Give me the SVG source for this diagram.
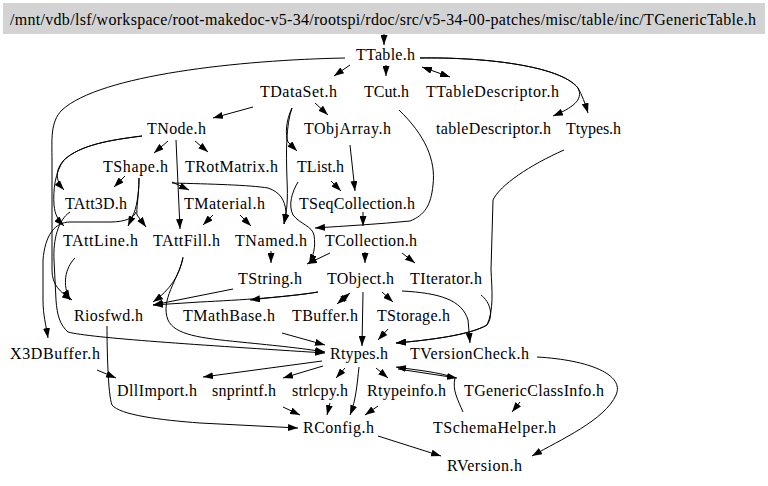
<svg xmlns="http://www.w3.org/2000/svg" width="768" height="486" viewBox="0 0 768 486">
<style>
text{font-family:"Liberation Serif","Times New Roman",serif;font-size:16px;fill:#000;text-anchor:middle}
#edges path{fill:none;stroke:#000;stroke-width:1;marker-end:url(#ah)}
#edges path.both{marker-start:url(#ah)}
</style>
<defs>
<marker id="ah" viewBox="0 0 10 7" refX="10" refY="3.5" markerWidth="10" markerHeight="7" markerUnits="userSpaceOnUse" orient="auto-start-reverse"><path d="M0,0L10,3.5L0,7z" fill="#000"/></marker>
</defs>
<rect width="768" height="486" fill="#fff"/>
<g id="edges">
<path d="M384,34L384,45"/>
<path d="M350,65L334,76"/>
<path d="M386,65L386,76"/>
<path class="both" d="M422,67L450,77"/>
<path d="M420,58C480,57 560,65 578,88C584,100 572,108 553,116"/>
<path d="M420,58C480,57 560,65 578,88C582,95 585,103 588,113"/>
<path d="M345,58C240,60 100,75 62,110C50,122 52,140 52,160L52,270C52,285 60,292 72,300"/>
<path d="M253,107L213,118"/>
<path d="M315,103L328,115"/>
<path d="M292,108C286,120 285,135 288,142L297,151"/>
<path d="M292,108C286,125 286,150 287,180C288,200 287,210 284,224"/>
<path d="M399,110C425,135 436,160 433,185C431,205 425,215 410,221C380,224 345,226 315,228"/>
<path d="M168,141L154,153"/>
<path d="M195,141L208,152"/>
<path d="M176,140L180,229"/>
<path d="M142,136C110,140 80,145 64,160C55,170 55,180 64,190"/>
<path d="M142,136C110,140 80,145 64,160C55,172 53,190 54,205C55,215 58,220 64,226"/>
<path d="M125,176L114,187"/>
<path d="M172,182L189,190"/>
<path d="M139,178C139,195 136,210 133,215L128,226"/>
<path d="M139,178C139,195 136,210 137,215L146,227"/>
<path d="M136,212C134,218 125,222 110,222L70,222C55,222 45,235 43,260L43,300C43,315 46,325 48,338"/>
<path d="M172,183C210,184 250,185 268,188C280,192 285,200 286,212L284,224"/>
<path d="M298,182C292,192 288,205 293,215C300,224 312,226 314,235C316,248 313,256 309,264"/>
<path d="M331,181L341,191"/>
<path d="M350,145L355,191"/>
<path d="M213,215L203,225"/>
<path d="M240,215L251,226"/>
<path d="M363,212L363,226"/>
<path d="M271,251L271,263"/>
<path d="M330,253L307,264"/>
<path d="M365,252L365,263"/>
<path d="M402,253L415,263"/>
<path d="M75,258C65,268 62,285 70,300"/>
<path d="M183,257C180,275 170,290 153,302"/>
<path d="M183,258C178,280 160,300 168,320C175,335 200,338 240,342C280,346 300,348 325,352"/>
<path d="M233,289L153,305"/>
<path d="M318,292C290,297 240,300 200,302L153,305"/>
<path d="M318,292C300,295 275,297 250,300"/>
<path class="both" d="M337,304L350,293"/>
<path d="M363,292L362,346"/>
<path d="M382,292L393,302"/>
<path d="M402,291C440,293 462,300 468,320L470,343"/>
<path d="M481,295C490,302 494,315 487,325C470,335 430,340 396,343"/>
<path d="M564,150C530,165 500,185 493,200L491,270C492,290 494,310 487,325C470,335 430,340 396,343"/>
<path d="M282,333L325,345"/>
<path d="M388,329L378,340"/>
<path d="M70,212C58,220 53,240 54,260L56,300C57,315 60,325 68,332C90,338 200,345 325,353"/>
<path d="M322,361L203,377"/>
<path d="M323,366L283,378"/>
<path d="M345,368L336,378"/>
<path d="M359,367C357,385 356,400 350,415"/>
<path d="M376,368L388,378"/>
<path d="M398,369L457,378"/>
<path d="M463,412C458,400 452,390 455,378C440,372 415,370 396,367"/>
<path d="M520,402L512,412"/>
<path d="M537,357C590,360 625,375 616,395C605,420 560,440 532,456"/>
<path d="M378,436L441,456"/>
<path d="M283,407L300,415"/>
<path d="M330,403L327,415"/>
<path d="M378,406L365,415"/>
<path d="M97,370L116,378"/>
<path d="M107,326C107,350 108,395 112,405C120,415 160,420 200,423L298,428"/>
</g>
<g id="title"><rect x="3" y="3" width="762" height="31" fill="#d3d3d3"/><text x="10" y="25" style="text-anchor:start" textLength="746">/mnt/vdb/lsf/workspace/root-makedoc-v5-34/rootspi/rdoc/src/v5-34-00-patches/misc/table/inc/TGenericTable.h</text></g>
<g id="TTable"><text x="385.5" y="60" textLength="59">TTable.h</text></g>
<g id="TDataSet"><text x="298.5" y="97" textLength="77">TDataSet.h</text></g>
<g id="TCut"><text x="386.5" y="97" textLength="45">TCut.h</text></g>
<g id="TTableDescriptor"><text x="492.5" y="97" textLength="133">TTableDescriptor.h</text></g>
<g id="TNode"><text x="176.5" y="134" textLength="59">TNode.h</text></g>
<g id="TObjArray"><text x="347.5" y="134" textLength="87">TObjArray.h</text></g>
<g id="tableDescriptor"><text x="493.5" y="134" textLength="115">tableDescriptor.h</text></g>
<g id="Ttypes"><text x="593.5" y="134" textLength="55">Ttypes.h</text></g>
<g id="TShape"><text x="135.5" y="172" textLength="65">TShape.h</text></g>
<g id="TRotMatrix"><text x="231.5" y="172" textLength="93">TRotMatrix.h</text></g>
<g id="TList"><text x="320.5" y="172" textLength="47">TList.h</text></g>
<g id="TAtt3D"><text x="96" y="209" textLength="62">TAtt3D.h</text></g>
<g id="TMaterial"><text x="224.5" y="209" textLength="81">TMaterial.h</text></g>
<g id="TSeqCollection"><text x="357" y="209" textLength="116">TSeqCollection.h</text></g>
<g id="TAttLine"><text x="100.5" y="246" textLength="75">TAttLine.h</text></g>
<g id="TAttFill"><text x="186.5" y="246" textLength="67">TAttFill.h</text></g>
<g id="TNamed"><text x="271" y="246" textLength="72">TNamed.h</text></g>
<g id="TCollection"><text x="371" y="246" textLength="92">TCollection.h</text></g>
<g id="TString"><text x="270" y="284" textLength="64">TString.h</text></g>
<g id="TObject"><text x="360.5" y="284" textLength="67">TObject.h</text></g>
<g id="TIterator"><text x="446" y="284" textLength="72">TIterator.h</text></g>
<g id="Riosfwd"><text x="108.5" y="321" textLength="69">Riosfwd.h</text></g>
<g id="TMathBase"><text x="229" y="321" textLength="92">TMathBase.h</text></g>
<g id="TBuffer"><text x="325" y="321" textLength="66">TBuffer.h</text></g>
<g id="TStorage"><text x="413.5" y="321" textLength="73">TStorage.h</text></g>
<g id="X3DBuffer"><text x="55" y="359" textLength="90">X3DBuffer.h</text></g>
<g id="Rtypes"><text x="359" y="359" textLength="58">Rtypes.h</text></g>
<g id="TVersionCheck"><text x="469.5" y="359" textLength="119">TVersionCheck.h</text></g>
<g id="DllImport"><text x="157" y="396" textLength="80">DllImport.h</text></g>
<g id="snprintf"><text x="244" y="396" textLength="64">snprintf.h</text></g>
<g id="strlcpy"><text x="320" y="396" textLength="56">strlcpy.h</text></g>
<g id="Rtypeinfo"><text x="406.5" y="396" textLength="79">Rtypeinfo.h</text></g>
<g id="TGenericClassInfo"><text x="534" y="396" textLength="140">TGenericClassInfo.h</text></g>
<g id="RConfig"><text x="338.5" y="433" textLength="71">RConfig.h</text></g>
<g id="TSchemaHelper"><text x="494.5" y="433" textLength="123">TSchemaHelper.h</text></g>
<g id="RVersion"><text x="484.5" y="471" textLength="75">RVersion.h</text></g>
</svg>
